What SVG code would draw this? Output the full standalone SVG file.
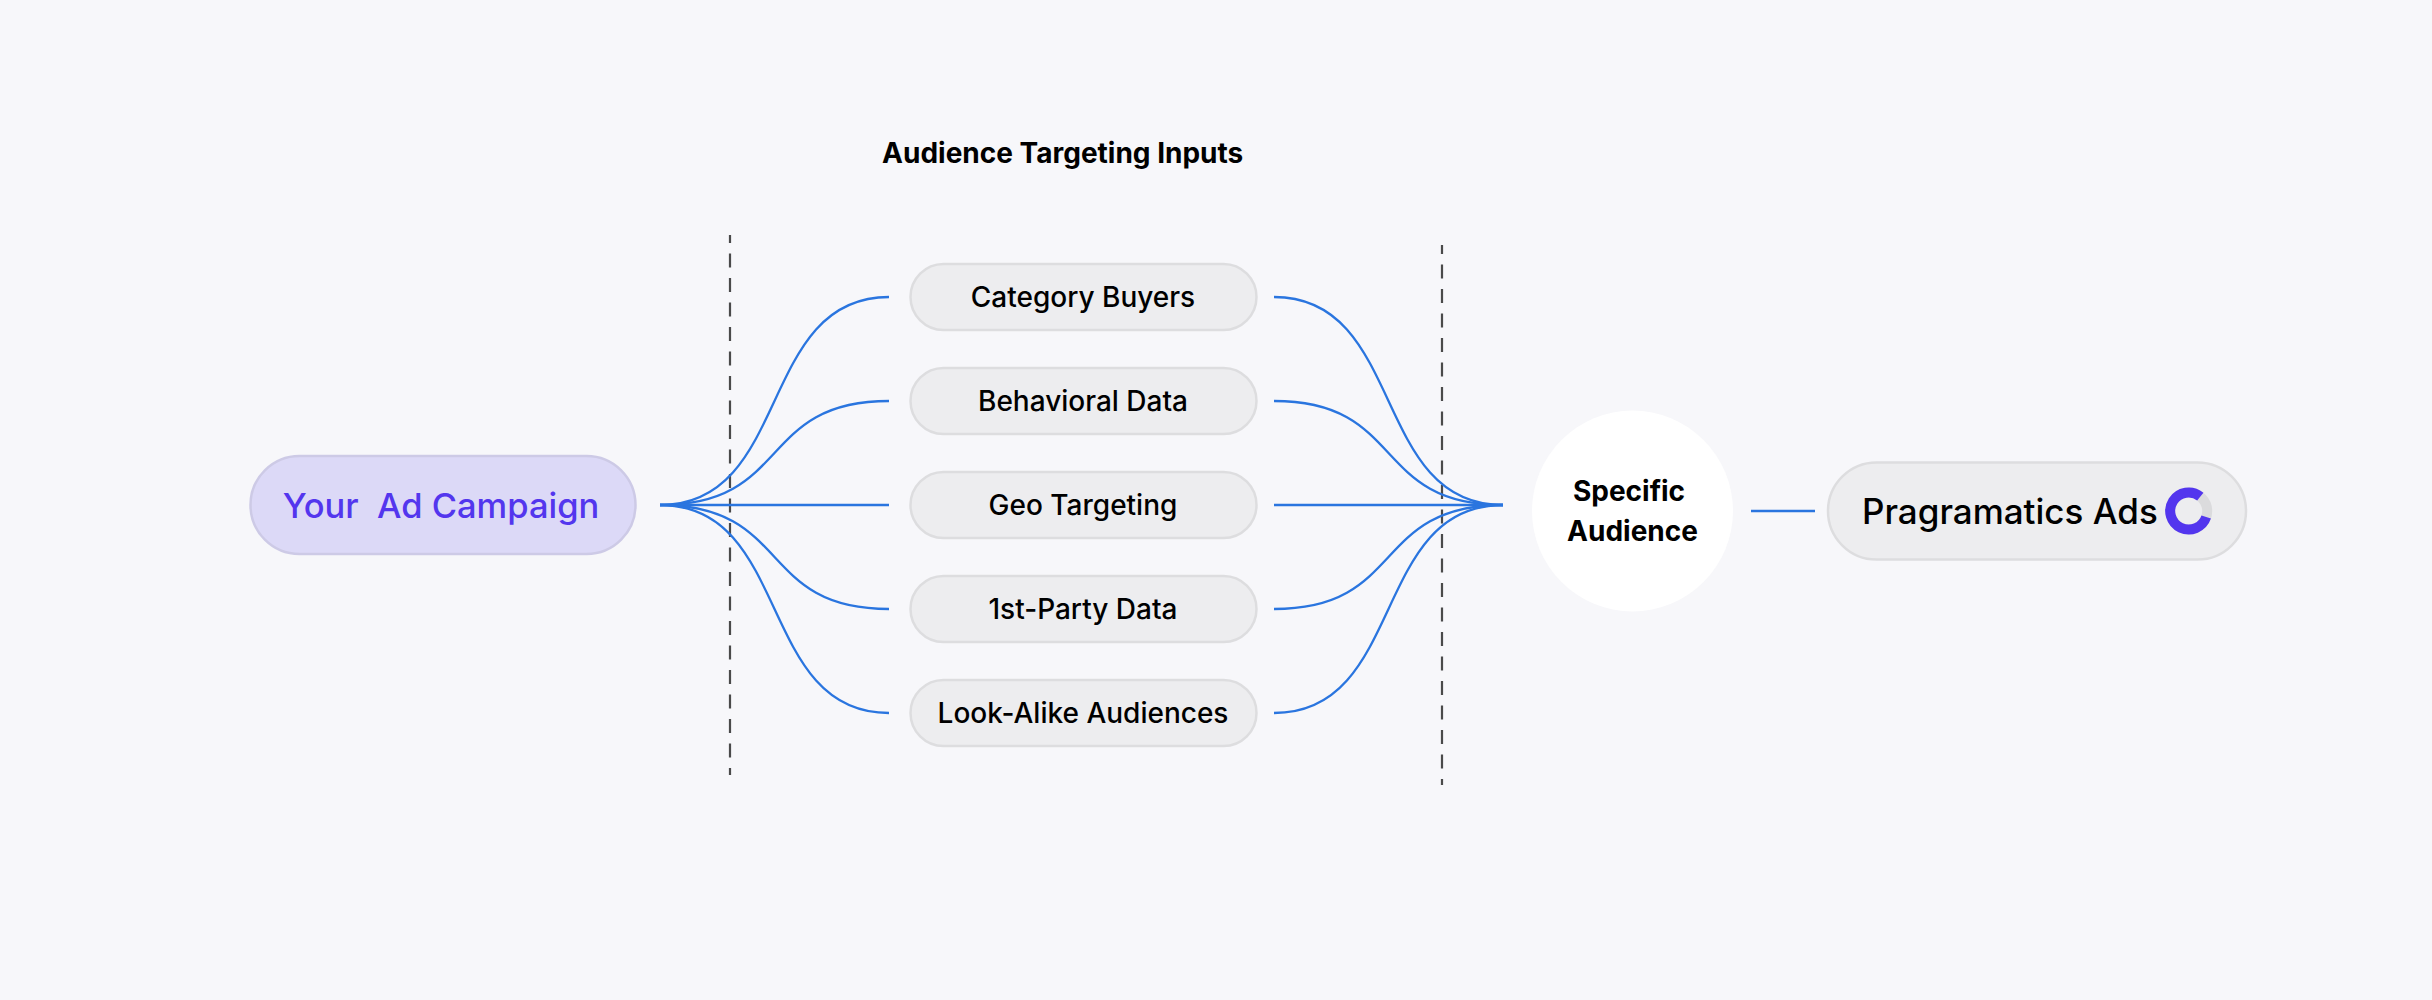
<svg xmlns="http://www.w3.org/2000/svg" width="2432" height="1000" viewBox="0 0 2432 1000">
<style>
text{font-family:Inter,"Noto Sans","Liberation Sans",sans-serif;fill:#000;white-space:pre;font-weight:500}
.pill{fill:#EDEDEF;stroke:#DDDDDF;stroke-width:2.5}
.lbl{font-size:28px;text-anchor:middle}
.bold{font-size:28px;font-weight:700;text-anchor:middle}
.c{fill:none;stroke:#2A75DF;stroke-width:2.3}
.d{fill:none;stroke:#4A4A4A;stroke-width:2.2;stroke-dasharray:14 10.5}
</style>
<rect width="2432" height="1000" fill="#F7F7FA"/>
<g id="guides">
<line class="d" x1="730" y1="235" x2="730" y2="775" stroke-dashoffset="6"/>
<line class="d" x1="1442" y1="245" x2="1442" y2="785" stroke-dashoffset="5"/>
</g>
<g id="connectors">
<path class="c" d="M660 505C792 505 757 297 889 297"/>
<path class="c" d="M660 505C792 505 757 401 889 401"/>
<path class="c" d="M660 505H889"/>
<path class="c" d="M660 505C792 505 757 609 889 609"/>
<path class="c" d="M660 505C792 505 757 713 889 713"/>
<path class="c" d="M1274 297C1406 297 1371 505 1503 505"/>
<path class="c" d="M1274 401C1406 401 1371 505 1503 505"/>
<path class="c" d="M1274 505H1503"/>
<path class="c" d="M1274 609C1406 609 1371 505 1503 505"/>
<path class="c" d="M1274 713C1406 713 1371 505 1503 505"/>
<path class="c" d="M1751 511H1815"/>
</g>
<text id="title" class="bold" x="1062.700" y="163">Audience Targeting Inputs</text>
<g id="campaign">
<rect x="250.500" y="456" width="385" height="98" rx="49" fill="#DCD9F7" stroke="#CDCAE6" stroke-width="2.500"/>
<text x="441" y="518" font-size="34.500" text-anchor="middle" style="fill:#5336EE">Your  Ad Campaign</text>
</g>
<g id="category-buyers"><rect class="pill" x="910.500" y="264" width="346" height="66" rx="33"/><text class="lbl" x="1083" y="307">Category Buyers</text></g>
<g id="behavioral-data"><rect class="pill" x="910.500" y="368" width="346" height="66" rx="33"/><text class="lbl" x="1083" y="411">Behavioral Data</text></g>
<g id="geo-targeting"><rect class="pill" x="910.500" y="472" width="346" height="66" rx="33"/><text class="lbl" x="1083" y="515">Geo Targeting</text></g>
<g id="first-party-data"><rect class="pill" x="910.500" y="576" width="346" height="66" rx="33"/><text class="lbl" x="1083" y="619">1st-Party Data</text></g>
<g id="look-alike-audiences"><rect class="pill" x="910.500" y="680" width="346" height="66" rx="33"/><text class="lbl" x="1083" y="723">Look-Alike Audiences</text></g>
<g id="specific-audience">
<circle cx="1632.500" cy="511" r="100.500" fill="#fff"/>
<text class="bold" x="1629" y="501">Specific</text>
<text class="bold" x="1632.500" y="541">Audience</text>
</g>
<g id="pragmatics-ads">
<rect x="1828" y="462.500" width="418" height="97" rx="48.500" fill="#EDEDEF" stroke="#DDDDDF" stroke-width="2.500"/>
<text x="1862" y="524" font-size="35">Pragramatics Ads</text>
<circle cx="2188.700" cy="511" r="18.500" fill="none" stroke="#DBDBDD" stroke-width="10"/>
<path d="M2200.300 496.600A18.500 18.500 0 1 0 2206.200 517" fill="none" stroke="#5336EE" stroke-width="10"/>
</g>
</svg>
